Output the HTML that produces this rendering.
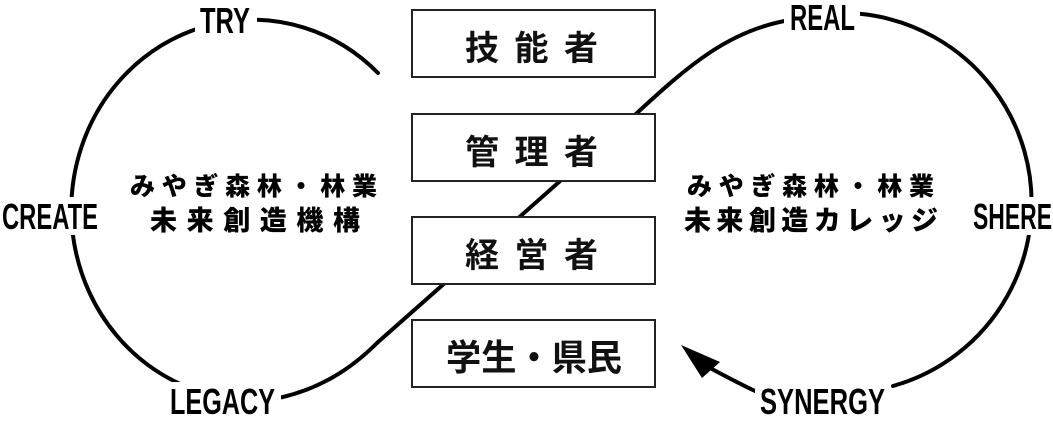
<!DOCTYPE html>
<html><head><meta charset="utf-8"><style>
html,body{margin:0;padding:0;background:#fff;}
body{width:1053px;height:421px;overflow:hidden;}
</style></head><body>
<svg width="1053" height="421" viewBox="0 0 1053 421" xmlns="http://www.w3.org/2000/svg">
<g fill="none" stroke="#000" stroke-width="4" stroke-linecap="round">
<path d="M378,73 A181,190 0 1 0 283,397 C320,388 350,370 377,343 L637,113 C690,64 730,30 790,20"/>
<path d="M790,20 A190,190 0 1 1 893,386"/>
<path d="M755,391 C740,384 725,376 710,368"/>
</g>
<polygon points="681,345 720,362 702,378" fill="#000"/>
<g fill="#fff">
<rect x="195" y="4" width="62" height="34"/>
<rect x="784" y="4" width="76" height="32"/>
<rect x="0" y="197" width="104" height="38"/>
<rect x="966" y="197" width="87" height="38"/>
<rect x="165" y="382" width="116" height="39"/>
<rect x="755" y="382" width="136" height="39"/>
</g>
<g font-family="Liberation Sans, sans-serif" font-size="36" font-weight="bold" fill="#000">
<text x="200" y="33" textLength="50" lengthAdjust="spacingAndGlyphs">TRY</text>
<text x="790" y="30" textLength="65" lengthAdjust="spacingAndGlyphs">REAL</text>
<text x="2" y="229" textLength="96" lengthAdjust="spacingAndGlyphs">CREATE</text>
<text x="973" y="229" textLength="79" lengthAdjust="spacingAndGlyphs">SHERE</text>
<text x="170" y="414" textLength="105" lengthAdjust="spacingAndGlyphs">LEGACY</text>
<text x="760" y="414" textLength="125" lengthAdjust="spacingAndGlyphs">SYNERGY</text>
</g>
<g fill="#fff" stroke="#222" stroke-width="2">
<rect x="412" y="10" width="243" height="67"/>
<rect x="412" y="114" width="243" height="67"/>
<rect x="412" y="217" width="243" height="67"/>
<rect x="412" y="320" width="243" height="67"/>
</g>
<g font-family="Liberation Sans, 'Noto Sans CJK JP', sans-serif" font-weight="bold" font-size="34" fill="#111">
<text x="465" y="60" textLength="133" lengthAdjust="spacing">技能者</text>
<text x="465" y="164" textLength="133" lengthAdjust="spacing">管理者</text>
<text x="465" y="267" textLength="133" lengthAdjust="spacing">経営者</text>
<text x="446" y="370" font-size="36" textLength="176" lengthAdjust="spacingAndGlyphs">学生・県民</text>
</g>
<g font-family="Liberation Sans, 'Noto Sans CJK JP', sans-serif" font-weight="900" font-size="25" fill="#000">
<text x="130" y="195" textLength="247" lengthAdjust="spacing">みやぎ森林・林業</text>
<text x="150" y="230" font-size="27" textLength="210" lengthAdjust="spacing">未来創造機構</text>
<text x="687" y="195" textLength="247" lengthAdjust="spacing">みやぎ森林・林業</text>
<text x="684" y="230" font-size="27" textLength="254" lengthAdjust="spacing">未来創造カレッジ</text>
</g>
</svg>
</body></html>
